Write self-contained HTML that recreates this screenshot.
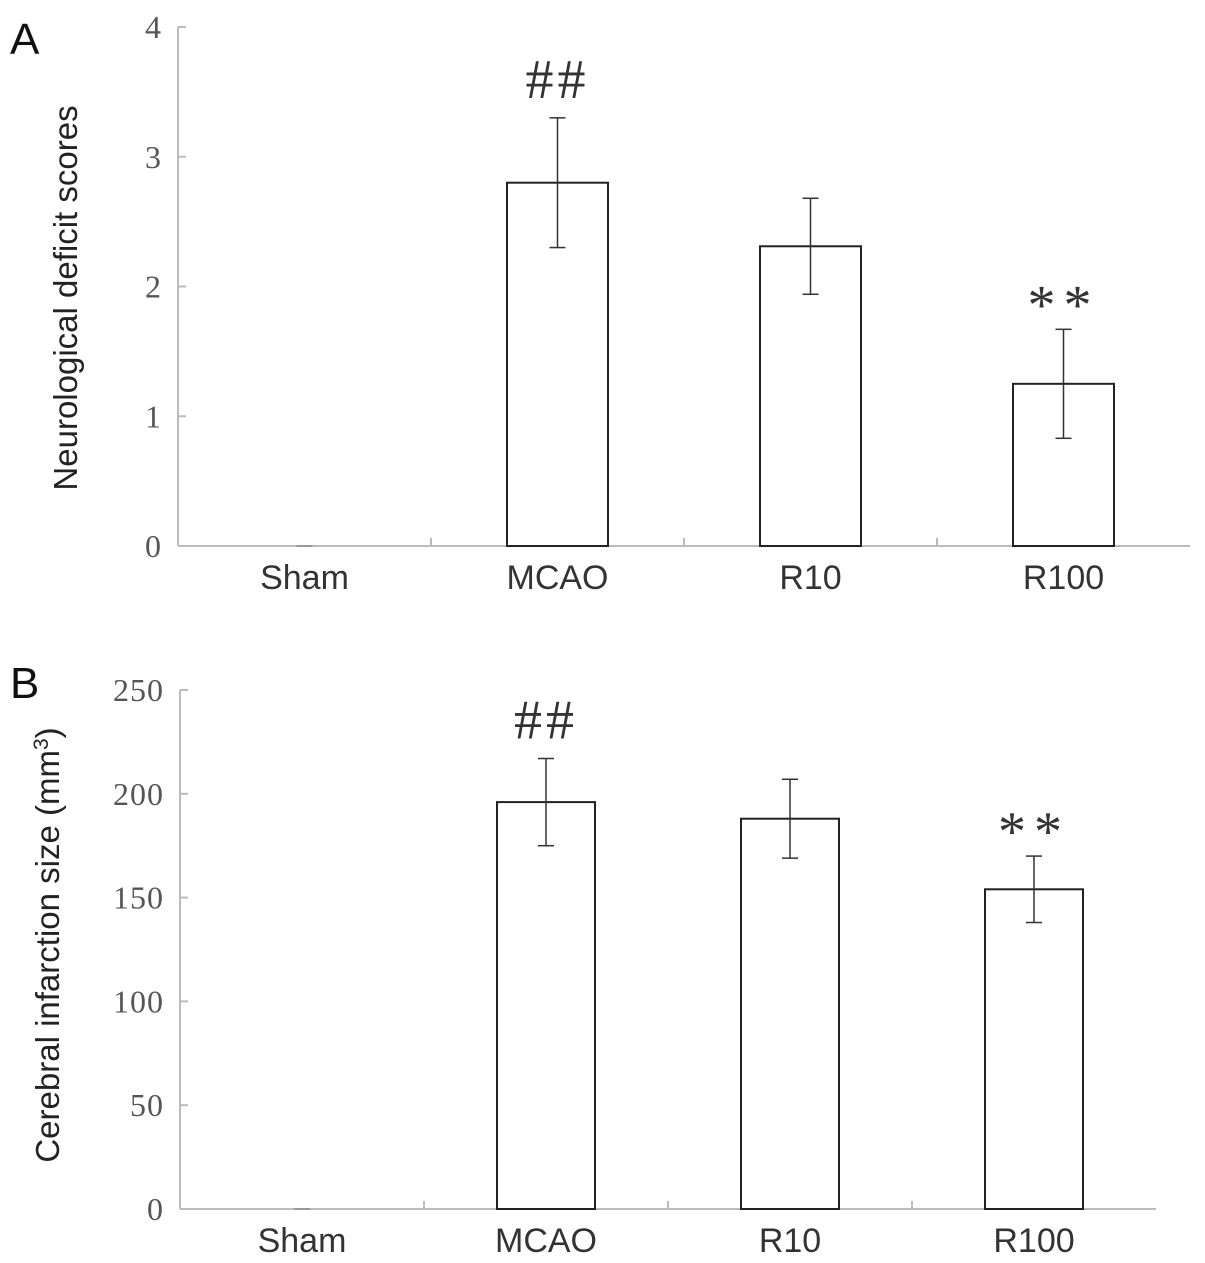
<!DOCTYPE html>
<html><head><meta charset="utf-8"><style>
body{margin:0;background:#fff;}
svg{display:block;}
.tick{font-family:"Liberation Serif",serif;font-size:32px;fill:#555;letter-spacing:1px;}
.cat{font-family:"Liberation Sans",sans-serif;font-size:34px;fill:#333;}
.ttl{font-family:"Liberation Sans",sans-serif;font-size:33px;fill:#222;}
.pl{font-family:"Liberation Sans",sans-serif;font-size:44px;fill:#111;}
.sig{font-family:"Liberation Serif",serif;font-size:56px;fill:#333;}
</style></head><body>
<svg id="c" width="1205" height="1263" xmlns="http://www.w3.org/2000/svg"></svg>
<script>
const categories=["Sham","MCAO","R10","R100"];
const valuesA=[0,2.8,2.31,1.25];
const errorsA=[0,0.5,0.37,0.42];
const sigA=["","##","","**"];
const ticksA=[0,1,2,3,4];
const valuesB=[0,196,188,154];
const errorsB=[0,21,19,16];
const sigB=["","##","","**"];
const ticksB=[0,50,100,150,200,250];
const NS="http://www.w3.org/2000/svg";
const svg=document.getElementById('c');
function mk(t,a,txt){const e=document.createElementNS(NS,t);for(const k in a)e.setAttribute(k,a[k]);if(txt!==undefined)e.textContent=txt;svg.appendChild(e);return e;}
function draw(p){
 const y=v=>p.y0-(v/p.max)*(p.y0-p.y1);
 const band=(p.x1-p.x0)/categories.length;
 const cx=i=>p.x0+band*(i+0.5);
 let e=mk('line',{x1:p.x0,y1:p.y1,x2:p.x0,y2:p.y0,stroke:'#bbb','stroke-width':2});
 
 e=mk('line',{x1:p.x0,y1:p.y0,x2:p.x1,y2:p.y0,stroke:'#bbb','stroke-width':2});
 
 p.ticks.forEach(t=>{
  mk('line',{x1:p.x0,y1:y(t),x2:p.x0+8,y2:y(t),stroke:'#bbb','stroke-width':2});
  e=mk('text',{x:p.x0-16,y:y(t)+11,'text-anchor':'end',class:'tick'},t);
  
 });
 for(let i=1;i<categories.length;i++){mk('line',{x1:p.x0+band*i,y1:p.y0,x2:p.x0+band*i,y2:p.y0-8,stroke:'#bbb','stroke-width':2});}
 categories.forEach((c,i)=>{
  e=mk('text',{x:cx(i),y:p.y0+43,'text-anchor':'middle',class:'cat'},c);
  
  const v=p.vals[i],er=p.errs[i],w=p.bw;
  if(v>0){
   e=mk('rect',{x:cx(i)-w/2,y:y(v),width:w,height:p.y0-y(v),fill:'#fff',stroke:'#222','stroke-width':2});
  }else{
   e=mk('line',{x1:cx(i)-8,y1:p.y0,x2:cx(i)+8,y2:p.y0,stroke:'#999','stroke-width':2});
  }
  
  if(er>0){
   mk('line',{x1:cx(i),y1:y(v+er),x2:cx(i),y2:y(v-er),stroke:'#333','stroke-width':1.5});
   mk('line',{x1:cx(i)-8,y1:y(v+er),x2:cx(i)+8,y2:y(v+er),stroke:'#333','stroke-width':1.5});
   mk('line',{x1:cx(i)-8,y1:y(v-er),x2:cx(i)+8,y2:y(v-er),stroke:'#333','stroke-width':1.5});
  }
  if(p.sig[i]){
   const isHash=p.sig[i]==='##';
   e=mk('text',{x:cx(i),y:y(v+er)-(isHash?20:6),'text-anchor':'middle',class:'sig','letter-spacing':isHash?4:8},p.sig[i]);
   
  }
 });
 e=mk('text',{x:p.tx,y:p.tc,'text-anchor':'middle',class:'ttl',transform:`rotate(-90 ${p.tx} ${p.tc})`});
 e.innerHTML=p.title;
 
 e=mk('text',{x:p.lx,y:p.ly,class:'pl'},p.label);
 
}
draw({id:'panel-a',x0:178,x1:1190,y0:546,y1:27,max:4,ticks:ticksA,vals:valuesA,errs:errorsA,sig:sigA,bw:101,tx:77,tc:298,title:'Neurological deficit scores',label:'A',lx:10,ly:54});
draw({id:'panel-b',x0:180,x1:1156,y0:1209,y1:690,max:250,ticks:ticksB,vals:valuesB,errs:errorsB,sig:sigB,bw:98,tx:59,tc:945,title:'Cerebral infarction size (mm<tspan dy="-11" font-size="21">3</tspan><tspan dy="11">)</tspan>',label:'B',lx:10,ly:698});
</script>
</body></html>
